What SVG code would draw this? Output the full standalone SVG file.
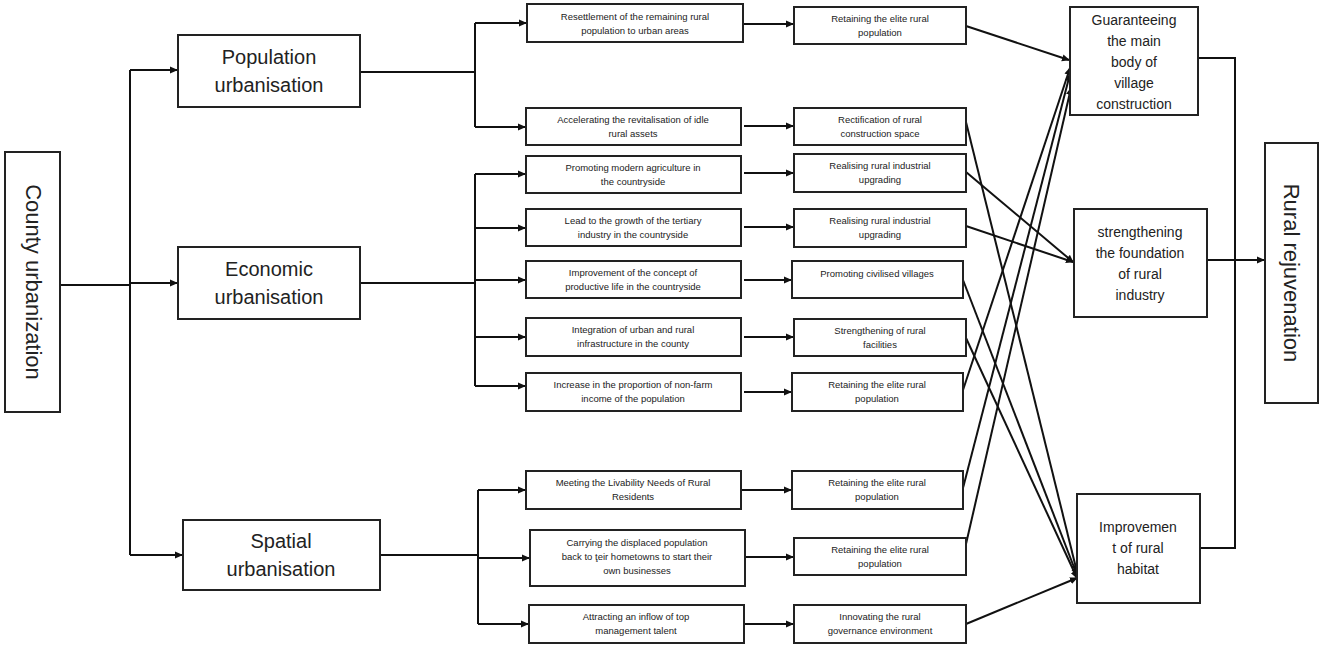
<svg xmlns="http://www.w3.org/2000/svg" width="1325" height="649" viewBox="0 0 1325 649">
<style>
rect{fill:#fff;stroke:#222;stroke-width:2}
text{font-family:"Liberation Sans",Arial,sans-serif;fill:#222;text-anchor:middle}
.s{font-size:9.5px}
.b{font-size:20px}
.m{font-size:14px}
.v{font-size:22px}
#conn path{fill:none;stroke:#111;stroke-width:2}
</style>
<defs><marker id="a" markerWidth="8" markerHeight="8" refX="7" refY="4" orient="auto" markerUnits="userSpaceOnUse"><path d="M0,0.5 L8,4 L0,7.5z" fill="#111"/></marker></defs>
<g id="conn">
<path d="M60,285 H130 M130,70 V555"/>
<path d="M130,70 H177" marker-end="url(#a)"/>
<path d="M130,283 H177" marker-end="url(#a)"/>
<path d="M130,555 H182" marker-end="url(#a)"/>
<path d="M360,72 H475 M475,23 V127"/>
<path d="M475,23 H526" marker-end="url(#a)"/>
<path d="M475,127 H525" marker-end="url(#a)"/>
<path d="M360,283 H475 M475,174 V386"/>
<path d="M475,174 H525" marker-end="url(#a)"/>
<path d="M475,228 H525" marker-end="url(#a)"/>
<path d="M475,280 H525" marker-end="url(#a)"/>
<path d="M475,337 H525" marker-end="url(#a)"/>
<path d="M475,386 H525" marker-end="url(#a)"/>
<path d="M380,555 H478 M478,490 V624"/>
<path d="M478,490 H525" marker-end="url(#a)"/>
<path d="M478,558 H529" marker-end="url(#a)"/>
<path d="M478,624 H528" marker-end="url(#a)"/>
<path d="M744,24 H793" marker-end="url(#a)"/>
<path d="M744,126 H793" marker-end="url(#a)"/>
<path d="M744,173 H793" marker-end="url(#a)"/>
<path d="M744,227 H793" marker-end="url(#a)"/>
<path d="M744,280 H791" marker-end="url(#a)"/>
<path d="M744,337 H793" marker-end="url(#a)"/>
<path d="M744,392 H791" marker-end="url(#a)"/>
<path d="M741,490 H791" marker-end="url(#a)"/>
<path d="M746,557 H793" marker-end="url(#a)"/>
<path d="M744,624 H793" marker-end="url(#a)"/>
<path d="M966,26 L1069,60" marker-end="url(#a)"/>
<path d="M966,122 L1077,572" marker-end="url(#a)"/>
<path d="M966,172 L1073,262" marker-end="url(#a)"/>
<path d="M966,226 L1073,262" marker-end="url(#a)"/>
<path d="M963,280 L1077,575" marker-end="url(#a)"/>
<path d="M966,338 L1077,578" marker-end="url(#a)"/>
<path d="M963,390 L1070,68" marker-end="url(#a)"/>
<path d="M963,488 L1070,74" marker-end="url(#a)"/>
<path d="M963,557 L1071,88" marker-end="url(#a)"/>
<path d="M966,624 L1077,578" marker-end="url(#a)"/>
<path d="M1198,58 H1235 V548 H1200"/>
<path d="M1207,260 H1264" marker-end="url(#a)"/>
</g>
<g id="county"><rect x="5" y="152" width="55" height="260"/><text class="v" transform="translate(26,282) rotate(90)" dy="0">County urbanization</text></g>
<g id="pop"><rect x="178" y="35" width="182" height="72"/><text class="b" x="269" y="64">Population</text><text class="b" x="269" y="92">urbanisation</text></g>
<g id="econ"><rect x="178" y="247" width="182" height="72"/><text class="b" x="269" y="276">Economic</text><text class="b" x="269" y="304">urbanisation</text></g>
<g id="spat"><rect x="183" y="520" width="197" height="70"/><text class="b" x="281" y="548">Spatial</text><text class="b" x="281" y="576">urbanisation</text></g>
<g id="a1"><rect x="527" y="4" width="216" height="38"/><text class="s" x="635" y="20">Resettlement of the remaining rural</text><text class="s" x="635" y="34">population to urban areas</text></g>
<g id="a2"><rect x="526" y="108" width="215" height="37"/><text class="s" x="633" y="123">Accelerating the revitalisation of idle</text><text class="s" x="633" y="137">rural assets</text></g>
<g id="a3"><rect x="526" y="156" width="215" height="37"/><text class="s" x="633" y="171">Promoting modern agriculture in</text><text class="s" x="633" y="185">the countryside</text></g>
<g id="a4"><rect x="526" y="209" width="215" height="37"/><text class="s" x="633" y="224">Lead to the growth of the tertiary</text><text class="s" x="633" y="238">industry in the countryside</text></g>
<g id="a5"><rect x="526" y="261" width="215" height="37"/><text class="s" x="633" y="276">Improvement of the concept of</text><text class="s" x="633" y="290">productive life in the countryside</text></g>
<g id="a6"><rect x="526" y="318" width="215" height="38"/><text class="s" x="633" y="333">Integration of urban and rural</text><text class="s" x="633" y="347">infrastructure in the county</text></g>
<g id="a7"><rect x="526" y="373" width="215" height="38"/><text class="s" x="633" y="388">Increase in the proportion of non-farm</text><text class="s" x="633" y="402">income of the population</text></g>
<g id="a8"><rect x="526" y="471" width="215" height="38"/><text class="s" x="633" y="486">Meeting the Livability Needs of Rural</text><text class="s" x="633" y="500">Residents</text></g>
<g id="a9"><rect x="530" y="530" width="215" height="56"/><text class="s" x="637" y="546">Carrying the displaced population</text><text class="s" x="637" y="560">back to ţeir hometowns to start their</text><text class="s" x="637" y="574">own businesses</text></g>
<g id="a10"><rect x="529" y="605" width="215" height="38"/><text class="s" x="636" y="620">Attracting an inflow of top</text><text class="s" x="636" y="634">management talent</text></g>
<g id="b1"><rect x="794" y="7" width="172" height="37"/><text class="s" x="880" y="22">Retaining the elite rural</text><text class="s" x="880" y="36">population</text></g>
<g id="b2"><rect x="794" y="108" width="172" height="37"/><text class="s" x="880" y="123">Rectification of rural</text><text class="s" x="880" y="137">construction space</text></g>
<g id="b3"><rect x="794" y="154" width="172" height="38"/><text class="s" x="880" y="169">Realising rural industrial</text><text class="s" x="880" y="183">upgrading</text></g>
<g id="b4"><rect x="794" y="209" width="172" height="38"/><text class="s" x="880" y="224">Realising rural industrial</text><text class="s" x="880" y="238">upgrading</text></g>
<g id="b5"><rect x="792" y="261" width="171" height="37"/><text class="s" x="877" y="277">Promoting civilised villages</text></g>
<g id="b6"><rect x="794" y="319" width="172" height="37"/><text class="s" x="880" y="334">Strengthening of rural</text><text class="s" x="880" y="348">facilities</text></g>
<g id="b7"><rect x="792" y="373" width="171" height="38"/><text class="s" x="877" y="388">Retaining the elite rural</text><text class="s" x="877" y="402">population</text></g>
<g id="b8"><rect x="792" y="471" width="171" height="38"/><text class="s" x="877" y="486">Retaining the elite rural</text><text class="s" x="877" y="500">population</text></g>
<g id="b9"><rect x="794" y="538" width="172" height="37"/><text class="s" x="880" y="553">Retaining the elite rural</text><text class="s" x="880" y="567">population</text></g>
<g id="b10"><rect x="794" y="605" width="172" height="38"/><text class="s" x="880" y="620">Innovating the rural</text><text class="s" x="880" y="634">governance environment</text></g>
<g id="c1"><rect x="1070" y="7" width="128" height="108"/><text class="m" x="1134" y="25">Guaranteeing</text><text class="m" x="1134" y="46">the main</text><text class="m" x="1134" y="67">body of</text><text class="m" x="1134" y="88">village</text><text class="m" x="1134" y="109">construction</text></g>
<g id="c2"><rect x="1074" y="209" width="133" height="108"/><text class="m" x="1140" y="237">strengthening</text><text class="m" x="1140" y="258">the foundation</text><text class="m" x="1140" y="279">of rural</text><text class="m" x="1140" y="300">industry</text></g>
<g id="c3"><rect x="1077" y="494" width="123" height="109"/><text class="m" x="1138" y="532">Improvemen</text><text class="m" x="1138" y="553">t of rural</text><text class="m" x="1138" y="574">habitat</text></g>
<g id="rr"><rect x="1265" y="143" width="53" height="260"/><text class="v" transform="translate(1284,273) rotate(90)">Rural rejuvenation</text></g>
</svg>
